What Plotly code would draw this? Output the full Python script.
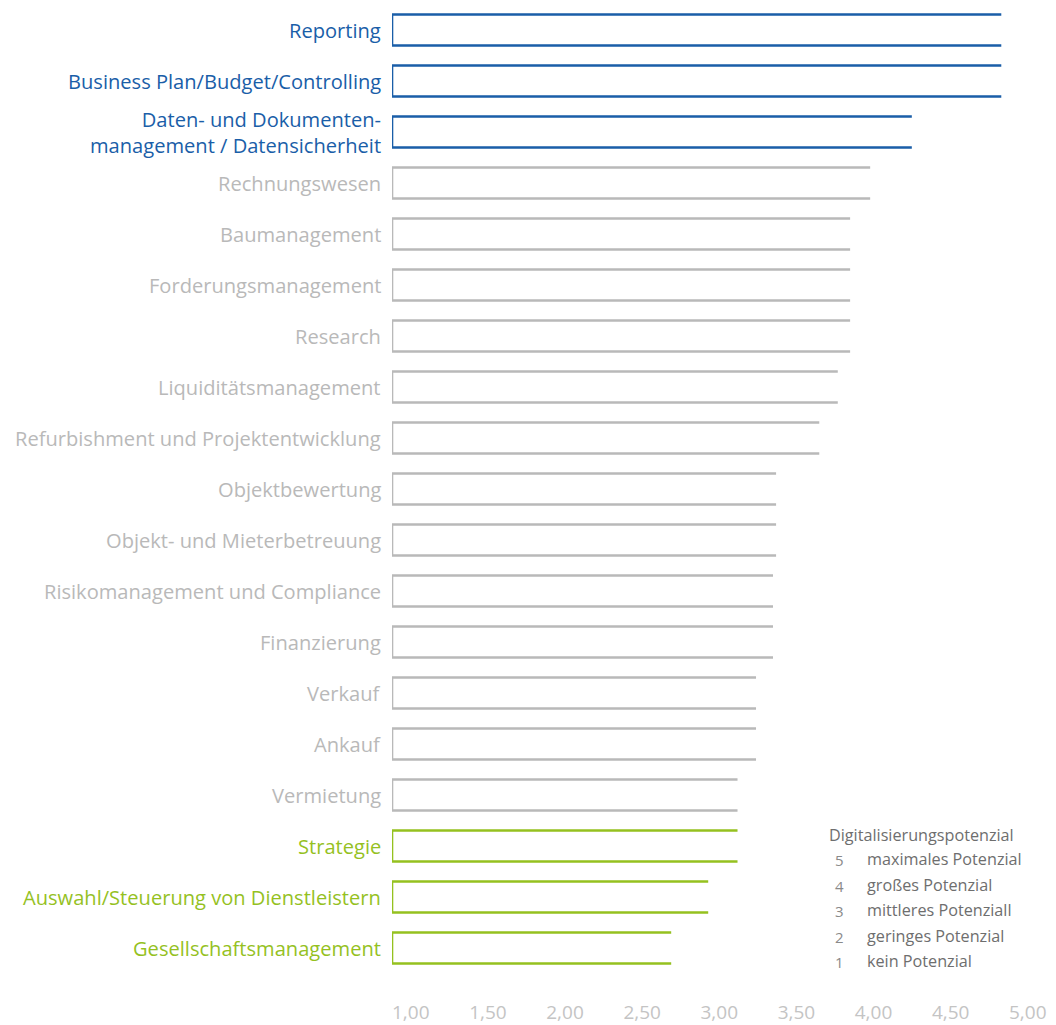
import plotly.graph_objects as go

categories = [
    "Reporting",
    "Business Plan/Budget/Controlling",
    "Daten- und Dokumenten-<br>management / Datensicherheit",
    "Rechnungswesen",
    "Baumanagement",
    "Forderungsmanagement",
    "Research",
    "Liquiditätsmanagement",
    "Refurbishment und Projektentwicklung",
    "Objektbewertung",
    "Objekt- und Mieterbetreuung",
    "Risikomanagement und Compliance",
    "Finanzierung",
    "Verkauf",
    "Ankauf",
    "Vermietung",
    "Strategie",
    "Auswahl/Steuerung von Dienstleistern",
    "Gesellschaftsmanagement",
]
values = [4.95, 4.95, 4.37, 4.10, 3.97, 3.97, 3.97, 3.89, 3.77, 3.49, 3.49,
          3.47, 3.47, 3.36, 3.36, 3.24, 3.24, 3.05, 2.81]
groups = ["top"] * 3 + ["mid"] * 13 + ["low"] * 3
group_colors = {"top": "#1a5ea8", "mid": "#b9b9b9", "low": "#95c11f"}
tick_vals = [1.0, 1.5, 2.0, 2.5, 3.0, 3.5, 4.0, 4.5, 5.0]
tick_text = ["1,00", "1,50", "2,00", "2,50", "3,00", "3,50", "4,00", "4,50", "5,00"]
legend_title = "Digitalisierungspotenzial"
legend_nums = ["5", "4", "3", "2", "1"]
legend_labels = ["maximales Potenzial", "großes Potenzial", "mittleres Potenziall",
                 "geringes Potenzial", "kein Potenzial"]

# page body margin offset of 8px
OFF = 8
W, H = 1056 - OFF, 1025 - OFF
L, R, T, B = 392 - OFF, 47, 0, 52
BASE = 1.0
HALF = 0.305
ROW = 51.0
FONT = "Open Sans"

ph = H - T - B
pw = W - L - R
y_top = -(30 - OFF - T) / ROW
y_bot = y_top + ph / ROW

fig = go.Figure()
for g, col in group_colors.items():
    xs, ys = [], []
    for i, (v, gg) in enumerate(zip(values, groups)):
        if gg != g:
            continue
        xs += [v, BASE, BASE, v, None]
        ys += [i - HALF, i - HALF, i + HALF, i + HALF, None]
    fig.add_trace(go.Scatter(x=xs, y=ys, mode="lines",
                             line=dict(color=col, width=2.6),
                             hoverinfo="skip", showlegend=False))

annotations = []
for i, (c, g) in enumerate(zip(categories, groups)):
    annotations.append(dict(x=0, y=i, xref="paper", yref="y", text=c,
                            xanchor="right", yanchor="middle", align="right",
                            xshift=-9, showarrow=False,
                            font=dict(family=FONT, size=20.1, color=group_colors[g])))


def px_to_paper(px, py):
    fx, fy = px - OFF, py - OFF
    return (fx - L) / pw, (H - B - fy) / ph

lx, ly = px_to_paper(827, 835)
annotations.append(dict(x=lx, y=ly, xref="paper", yref="paper", text=legend_title,
                        xanchor="left", yanchor="middle", showarrow=False,
                        font=dict(family=FONT, size=16.2, color="#6e6e6e")))
for k, (n, t) in enumerate(zip(legend_nums, legend_labels)):
    py = 859 + k * 25.5
    nx, ny = px_to_paper(839, py + 1)
    tx, ty = px_to_paper(865, py)
    annotations.append(dict(x=nx, y=ny, xref="paper", yref="paper", text=n,
                            xanchor="center", yanchor="middle", showarrow=False,
                            font=dict(family=FONT, size=15, color="#8a8a8a")))
    annotations.append(dict(x=tx, y=ty, xref="paper", yref="paper", text=t,
                            xanchor="left", yanchor="middle", showarrow=False,
                            font=dict(family=FONT, size=16.2, color="#6e6e6e")))

fig.update_layout(
    width=W, height=H,
    margin=dict(l=L, r=R, t=T, b=B),
    paper_bgcolor="white", plot_bgcolor="white",
    annotations=annotations,
    xaxis=dict(range=[1.0, 5.0], tickvals=tick_vals, ticktext=tick_text,
               ticklabelposition="outside right", showgrid=False, zeroline=False,
               showline=False, ticks="", ticklen=0, ticklabelstandoff=26,
               tickfont=dict(family=FONT, size=19, color="#c4c4c4")),
    yaxis=dict(range=[y_bot, y_top], showticklabels=False, showgrid=False,
               zeroline=False, showline=False),
)
fig.update_xaxes(automargin=False)
fig.update_yaxes(automargin=False)
fig.write_html("out.html")
